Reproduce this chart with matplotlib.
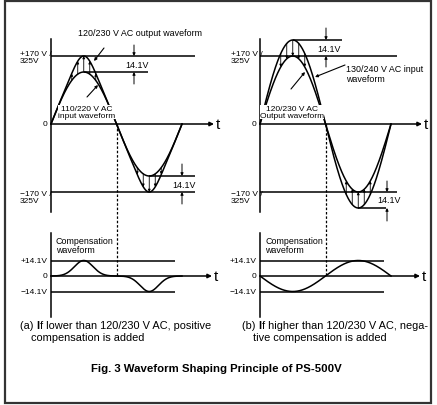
import numpy as np
import matplotlib
matplotlib.use("Agg")
import matplotlib.pyplot as plt
from matplotlib.patches import Rectangle

plt.rcParams['font.family'] = ['Liberation Sans', 'DejaVu Sans']

# --- diagram values ---
peak_volts = 170            # nominal output peak (+170 V / 325V)
comp_volts = 14.1           # compensation amplitude
comp_drawn = 40             # compensation as drawn in upper plot (exaggerated)
hatch_phases = [-33, -16.5, 0, 16.5, 33]   # offsets of the arrows around peaks (deg)
bump_width = 36             # width of the positive/negative pulse in (a), deg

level_labels = ["+170 V /\n325V", "0", "\u2212170 V /\n325V"]
comp_labels = ["+14.1V", "0", "\u221214.1V"]
captions = [("(a) ", "If lower than 120/230 V AC, positive", "compensation is added"),
            ("(b) ", "If higher than 120/230 V AC, nega-", "tive compensation is added")]
title = "Fig. 3 Waveform Shaping Principle of PS-500V"

# --- layout (pixels) ---
W, H = 437, 406
y_top0 = 125
y_bot0 = 277
px_deg = 65.5 / 180
px_v_top = 68 / 170
px_v_bot = 15.5 / 14.1
LW = 1.1
fs = 6.4

fig = plt.figure(figsize=(W / 100, H / 100), dpi=100)
ax = fig.add_axes([0, 0, 1, 1])
ax.set_xlim(0, W)
ax.set_ylim(H, 0)
ax.axis("off")


def tx(x0, ph):
    return x0 + np.asarray(ph) * px_deg


def ty(v):
    return y_top0 - np.asarray(v) * px_v_top


def by(v):
    return y_bot0 - np.asarray(v) * px_v_bot


def arrow(x1, y1, x2, y2, ms=5, lw=0.7):
    ax.annotate("", xy=(x2, y2), xytext=(x1, y1),
                arrowprops=dict(arrowstyle="-|>", mutation_scale=ms, lw=lw,
                                color="black", shrinkA=0, shrinkB=0))


def hline(y, xa, xb, lw=LW):
    ax.plot([xa, xb], [y, y], color="black", lw=lw, solid_capstyle="butt")


def inp_at(key, p):
    r = np.sin(np.radians(p))
    if key == "a":
        return (peak_volts - comp_drawn) * r
    return (peak_volts + comp_drawn) * r


def pulse(p):
    return np.exp(-((p - 90) / bump_width) ** 2) - np.exp(-((p - 270) / bump_width) ** 2)


def out_at(key, p):
    r = np.sin(np.radians(p))
    if key == "a":
        return (peak_volts - comp_drawn) * r + comp_drawn * pulse(p)
    return peak_volts * r


def comp_at(key, p):
    if key == "a":
        return comp_volts * pulse(p)
    return -comp_volts * np.sin(np.radians(p))


ph = np.linspace(0, 360, 721)
box = dict(fc="white", ec="none", pad=0.0)

for key, x0, t_end, lev_right, lab_x in [("a", 51, 214, 195, 20), ("b", 260, 422, 397, 231)]:
    # upper plot axes
    ax.plot([x0, x0], [40, 213], color="black", lw=LW)
    arrow(x0, y_top0, t_end, y_top0, ms=6, lw=LW)
    ax.text(t_end + 2, y_top0, "t", fontsize=11, va="center", ha="left")
    hline(ty(peak_volts), x0, lev_right)
    hline(ty(-peak_volts), x0, lev_right)
    ax.text(lab_x, ty(peak_volts) + 1, level_labels[0], fontsize=6.0, va="center", ha="left",
            linespacing=1.05)
    ax.text(x0 - 4, y_top0, level_labels[1], fontsize=6.0, va="center", ha="right")
    ax.text(lab_x, ty(-peak_volts) + 5, level_labels[2], fontsize=6.0, va="center", ha="left",
            linespacing=1.05)

    ax.plot(tx(x0, ph), ty(inp_at(key, ph)), color="black", lw=LW)
    ax.plot(tx(x0, ph), ty(out_at(key, ph)), color="black", lw=LW)

    for centre in (90, 270):
        for d in hatch_phases:
            p = centre + d
            arrow(tx(x0, p), ty(inp_at(key, p)), tx(x0, p), ty(out_at(key, p)), ms=3.5, lw=0.6)

    # 14.1V brackets and labels
    if key == "a":
        hline(ty(peak_volts - comp_drawn), tx(x0, 90), 148)
        hline(ty(-(peak_volts - comp_drawn)), tx(x0, 270), lev_right)
        yt_hi, yt_lo = ty(peak_volts), ty(peak_volts - comp_drawn)
        arrow(134, yt_hi - 11, 134, yt_hi, ms=4)
        arrow(134, yt_lo + 12, 134, yt_lo, ms=4)
        ax.text(137, (yt_hi + yt_lo) / 2, "14.1V", fontsize=fs, ha="center", va="center")
        yb_hi, yb_lo = ty(-(peak_volts - comp_drawn)), ty(-peak_volts)
        arrow(182, yb_hi - 12, 182, yb_hi, ms=4)
        arrow(182, yb_lo + 12, 182, yb_lo, ms=4)
        ax.text(184, (yb_hi + yb_lo) / 2 + 0.5, "14.1V", fontsize=fs, ha="center", va="center")
        ax.text(140, 33, "120/230 V AC output waveform", fontsize=fs, ha="center", va="center")
        arrow(104, 49, 94, 62, ms=4, lw=0.8)
        ax.text(87, 113, "110/220 V AC\ninput waveform", fontsize=6.0, ha="center", va="center",
                linespacing=1.0, bbox=box)
        arrow(87, 98, 98, 86, ms=4, lw=0.8)
    else:
        hline(ty(peak_volts + comp_drawn), tx(x0, 90), 342)
        hline(ty(-(peak_volts + comp_drawn)), tx(x0, 270), 386)
        yt_hi, yt_lo = ty(peak_volts + comp_drawn), ty(peak_volts)
        arrow(326, yt_hi - 12, 326, yt_hi, ms=4)
        arrow(326, yt_lo + 11, 326, yt_lo, ms=4)
        ax.text(329, (yt_hi + yt_lo) / 2, "14.1V", fontsize=fs, ha="center", va="center")
        yb_hi, yb_lo = ty(-peak_volts), ty(-(peak_volts + comp_drawn))
        arrow(387, yb_hi - 11, 387, yb_hi, ms=4)
        arrow(387, yb_lo + 13, 387, yb_lo, ms=4)
        ax.text(389, (yb_hi + yb_lo) / 2, "14.1V", fontsize=fs, ha="center", va="center")
        ax.text(346, 74.5, "130/240 V AC input\nwaveform", fontsize=fs, ha="left", va="center",
                linespacing=1.0)
        arrow(345, 66, 315, 78, ms=4, lw=0.8)
        ax.text(292, 113, "120/230 V AC\nOutput waveform", fontsize=6.0, ha="center", va="center",
                linespacing=1.0, bbox=box)
        arrow(291, 90, 305, 73, ms=4, lw=0.8)

    # dashed guide
    ax.plot([tx(x0, 180), tx(x0, 180)], [y_top0, y_bot0], color="black", lw=0.9, ls=(0, (2, 1.5)))

    # compensation plot
    ax.plot([x0, x0], [234, 318], color="black", lw=LW)
    arrow(x0, y_bot0, t_end - 2, y_bot0, ms=6, lw=LW)
    ax.text(t_end, y_bot0, "t", fontsize=11, va="center", ha="left")
    hline(by(comp_volts), x0, x0 + 124)
    hline(by(-comp_volts), x0, x0 + 124)
    ax.text(x0 - 3, by(comp_volts), comp_labels[0], fontsize=6.0, va="center", ha="right")
    ax.text(x0 - 4, y_bot0, comp_labels[1], fontsize=6.0, va="center", ha="right")
    ax.text(x0 - 3, by(-comp_volts), comp_labels[2], fontsize=6.0, va="center", ha="right")
    ax.text(x0 + 5, 246, "Compensation\nwaveform", fontsize=fs, va="center", ha="left",
            linespacing=1.05)
    ax.plot(tx(x0, ph), by(comp_at(key, ph)), color="black", lw=LW)

# captions
for (pre, l1, l2), xc in zip(captions, [20, 242]):
    t1 = ax.text(xc, 326, pre, fontsize=7.9, va="center", ha="left")
    ax.annotate("I", xycoords=t1, xy=(1, 0.5), va="center", ha="left", fontsize=7.9,
                fontweight="bold")
    ax.annotate(l1[1:], xycoords=t1, xy=(1, 0.5), xytext=(2.3, 0), textcoords="offset points",
                va="center", ha="left", fontsize=7.9)
    ax.text(xc + 11, 338, l2, fontsize=7.9, va="center", ha="left")

ax.text(216, 369, title, fontsize=8.2, fontweight="bold", ha="center", va="center")

ax.add_patch(Rectangle((5, 1.5), 426, 402.5, fill=False, ec="#333333", lw=1.6))

fig.savefig("out.png", dpi=100)
